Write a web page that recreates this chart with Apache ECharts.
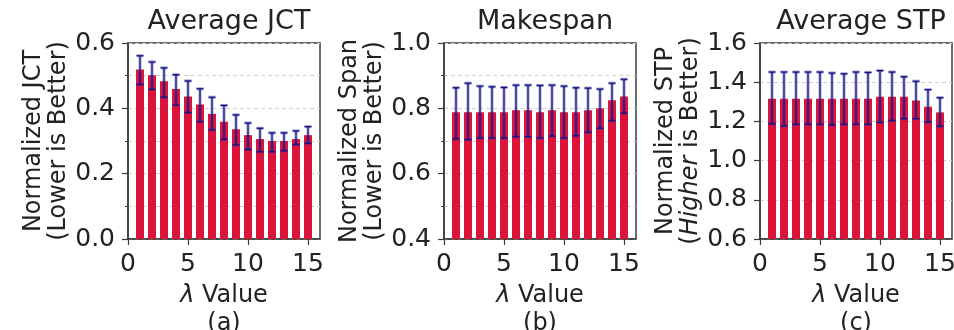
<!DOCTYPE html>
<html>
<head>
<meta charset="utf-8">
<script src="https://cdn.jsdelivr.net/npm/echarts@6/dist/echarts.min.js"></script>
<style>
  html, body { margin: 0; padding: 0; background: #fff; }
  #chart { width: 954px; height: 330px; }
</style>
</head>
<body>
<div id="chart"></div>
<script>
// lambda values on the x axis
var lambdas = [1, 2, 3, 4, 5, 6, 7, 8, 9, 10, 11, 12, 13, 14, 15];
var xTicks = [0, 5, 10, 15];

// (a) average JCT
var jctMean = [0.519, 0.501, 0.483, 0.459, 0.436, 0.412, 0.383, 0.359, 0.336, 0.318, 0.306, 0.300, 0.300, 0.306, 0.318];
var jctLow  = [0.473, 0.458, 0.434, 0.410, 0.387, 0.359, 0.334, 0.305, 0.288, 0.274, 0.267, 0.267, 0.270, 0.289, 0.293];
var jctHigh = [0.561, 0.542, 0.524, 0.503, 0.484, 0.460, 0.434, 0.409, 0.380, 0.355, 0.339, 0.325, 0.325, 0.331, 0.344];

// (b) makespan
var spanMean = [0.788, 0.788, 0.788, 0.788, 0.788, 0.794, 0.794, 0.788, 0.794, 0.788, 0.788, 0.794, 0.800, 0.825, 0.836];
var spanLow  = [0.706, 0.704, 0.709, 0.709, 0.709, 0.713, 0.713, 0.709, 0.715, 0.709, 0.716, 0.727, 0.739, 0.762, 0.785];
var spanHigh = [0.863, 0.877, 0.868, 0.866, 0.864, 0.871, 0.871, 0.870, 0.871, 0.868, 0.863, 0.862, 0.859, 0.877, 0.889];

// (c) average STP
var stpMean = [1.316, 1.316, 1.316, 1.316, 1.316, 1.316, 1.316, 1.316, 1.316, 1.326, 1.326, 1.326, 1.306, 1.275, 1.246];
var stpLow  = [1.187, 1.177, 1.185, 1.185, 1.185, 1.182, 1.185, 1.185, 1.185, 1.195, 1.204, 1.214, 1.214, 1.197, 1.175];
var stpHigh = [1.452, 1.452, 1.452, 1.452, 1.452, 1.447, 1.443, 1.452, 1.450, 1.459, 1.452, 1.428, 1.405, 1.362, 1.321];

var FONT = 'DejaVu Sans';
var TXT = '#222';
var SPINE = '#3a3a3a';
var BAR = '#DC143C';

var panels = [
  { title: 'Average JCT', left: 128, mean: jctMean, low: jctLow, high: jctHigh,
    ymin: 0, ymax: 0.6, minor: true, tag: '(a)',
    yname: 'Normalized JCT\n(Lower is Better)' },
  { title: 'Makespan', left: 444, mean: spanMean, low: spanLow, high: spanHigh,
    ymin: 0.4, ymax: 1.0, minor: true, tag: '(b)',
    yname: 'Normalized Span\n(Lower is Better)' },
  { title: 'Average STP', left: 760, mean: stpMean, low: stpLow, high: stpHigh,
    ymin: 0.6, ymax: 1.6, minor: false, tag: '(c)',
    yname: 'Normalized STP\n({i|Higher} is Better)' }
];

function pairs(xs, ys) {
  return xs.map(function (x, i) { return [x, ys[i]]; });
}

function errorItem(params, api) {
  var x = api.value(0);
  var lo = api.coord([x, api.value(1)]);
  var hi = api.coord([x, api.value(2)]);
  var w = 3.5;
  var styles = [
    { stroke: 'rgba(40,40,170,0.45)', lineWidth: 3 },
    { stroke: '#14147a', lineWidth: 1.2 }
  ];
  var kids = [];
  styles.forEach(function (st) {
    kids.push({ type: 'line', shape: { x1: lo[0], y1: lo[1], x2: hi[0], y2: hi[1] }, style: st });
    kids.push({ type: 'line', shape: { x1: hi[0] - w, y1: hi[1], x2: hi[0] + w, y2: hi[1] }, style: st });
    kids.push({ type: 'line', shape: { x1: lo[0] - w, y1: lo[1], x2: lo[0] + w, y2: lo[1] }, style: st });
  });
  return { type: 'group', children: kids };
}

var grids = [], xAxes = [], yAxes = [], titles = [], series = [];
var gridLine = { color: '#cfcfcf', width: 1, type: [4, 3] };

panels.forEach(function (p, k) {
  grids.push({ left: p.left, top: 43, width: 192, height: 196, show: true,
    containLabel: false, outerBoundsMode: 'none',
    borderColor: SPINE, borderWidth: 1.5, backgroundColor: 'transparent' });

  titles.push({ text: p.title, left: p.left + 96, top: 3, textAlign: 'center',
    textStyle: { fontFamily: FONT, fontSize: 27, fontWeight: 'normal', color: TXT } });

  xAxes.push({
    gridIndex: k, type: 'value', min: 0, max: 16,
    name: '{i|λ} Value\n' + p.tag, nameLocation: 'middle', nameGap: 37,
    nameTextStyle: { fontFamily: FONT, fontSize: 24, color: TXT, lineHeight: 28,
      rich: { i: { fontStyle: 'italic', fontFamily: FONT, fontSize: 24, color: TXT, lineHeight: 28 } } },
    axisLine: { show: true, lineStyle: { color: SPINE, width: 1.5 } },
    axisTick: { show: true, length: 6, customValues: xTicks, lineStyle: { color: SPINE, width: 1.2 } },
    axisLabel: { customValues: xTicks, margin: 13, fontFamily: FONT, fontSize: 25, color: TXT },
    splitLine: { show: false }
  });

  yAxes.push({
    gridIndex: k, type: 'value', min: p.ymin, max: p.ymax, interval: 0.2,
    name: p.yname, nameLocation: 'middle', nameGap: 57,
    nameTextStyle: { fontFamily: FONT, fontSize: 24, color: TXT, lineHeight: 25,
      rich: { i: { fontStyle: 'italic', fontFamily: FONT, fontSize: 24, color: TXT, lineHeight: 25 } } },
    axisLine: { show: true, lineStyle: { color: SPINE, width: 1.5 } },
    axisTick: { show: true, length: 6, lineStyle: { color: SPINE, width: 1.2 } },
    minorTick: { show: p.minor, splitNumber: 2, length: 3, lineStyle: { color: SPINE, width: 1 } },
    axisLabel: { margin: 13, fontFamily: FONT, fontSize: 25, color: TXT,
      formatter: function (v) { return v.toFixed(1); } },
    splitLine: { show: true, lineStyle: gridLine },
    minorSplitLine: { show: p.minor, lineStyle: gridLine }
  });

  series.push({
    type: 'bar', xAxisIndex: k, yAxisIndex: k, barWidth: 8,
    itemStyle: { color: BAR }, data: pairs(lambdas, p.mean), clip: true, silent: true
  });
  series.push({
    type: 'custom', xAxisIndex: k, yAxisIndex: k, renderItem: errorItem,
    encode: { x: 0, y: [1, 2] }, z: 5, silent: true,
    data: lambdas.map(function (x, i) { return [x, p.low[i], p.high[i]]; })
  });
});

var chart = echarts.init(document.getElementById('chart'), null, { renderer: 'canvas' });
chart.setOption({
  animation: false,
  backgroundColor: '#fff',
  title: titles,
  grid: grids,
  xAxis: xAxes,
  yAxis: yAxes,
  series: series
});
</script>
</body>
</html>
